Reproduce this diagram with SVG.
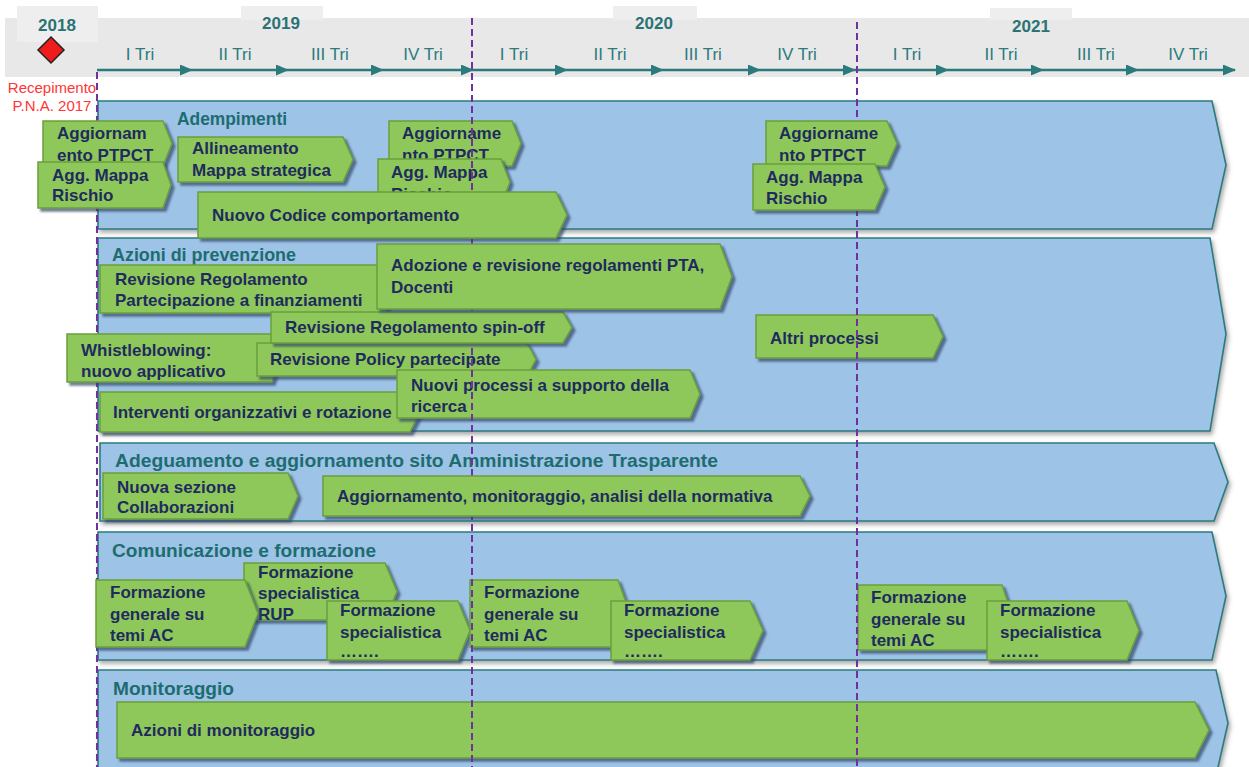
<svg xmlns="http://www.w3.org/2000/svg" width="1249" height="767" viewBox="0 0 1249 767">
<defs>
<style>
.yr{font-family:"Liberation Sans",Arial,sans-serif;font-weight:bold;font-size:17px;fill:#2b7275;text-anchor:middle}
.q{font-family:"Liberation Sans",Arial,sans-serif;font-size:17px;fill:#2b7a7c;text-anchor:middle}
.tl{stroke:#2b7a7c;stroke-width:2.5;fill:none}
.lane{fill:#9dc3e6;stroke:#2a7b80;stroke-width:1.6}
.lt{font-family:"Liberation Sans",Arial,sans-serif;font-weight:bold;font-size:18px;fill:#1d6d70}
.bx{fill:#8fc85a;stroke:#6a9e3c;stroke-width:1.5}
.bt{font-family:"Liberation Sans",Arial,sans-serif;font-weight:bold;font-size:17px;fill:#1f2b5e}
.guide{stroke:#7030a0;stroke-width:2;stroke-dasharray:7 4;fill:none}
.rec{font-family:"Liberation Sans",Arial,sans-serif;font-size:15px;fill:#ff3535;text-anchor:middle}
</style>
<marker id="ah" markerWidth="13" markerHeight="11" refX="12" refY="5.5" orient="auto" markerUnits="userSpaceOnUse">
<path d="M0,0 L13,5.5 L0,11 Z" fill="#2b7a7c"/>
</marker>
<filter id="sh" x="-5%" y="-20%" width="115%" height="150%">
<feDropShadow dx="3" dy="3" stdDeviation="1" flood-color="#34456a" flood-opacity="0.7"/>
</filter>
<filter id="lsh" x="-5%" y="-10%" width="115%" height="130%">
<feDropShadow dx="2" dy="3" stdDeviation="2" flood-color="#555" flood-opacity="0.5"/>
</filter>
</defs>
<rect width="1249" height="767" fill="#ffffff"/>

<g id="header">
<rect x="5" y="18" width="1244" height="59" fill="#e8e8e8"/>
<rect x="17" y="6" width="81" height="36" fill="#eeeeee"/>
<rect x="241" y="6" width="82" height="14" fill="#eeeeee"/>
<rect x="613" y="6" width="84" height="14" fill="#eeeeee"/>
<rect x="990" y="8" width="82" height="12" fill="#eeeeee"/>
<text class="yr" x="57" y="31">2018</text>
<text class="yr" x="281" y="29">2019</text>
<text class="yr" x="654" y="29">2020</text>
<text class="yr" x="1031" y="32">2021</text>
<text class="q" x="140" y="60">I Tri</text>
<text class="q" x="235" y="60">II Tri</text>
<text class="q" x="330" y="60">III Tri</text>
<text class="q" x="423" y="60">IV Tri</text>
<text class="q" x="514" y="60">I Tri</text>
<text class="q" x="610" y="60">II Tri</text>
<text class="q" x="703" y="60">III Tri</text>
<text class="q" x="797" y="60">IV Tri</text>
<text class="q" x="907" y="60">I Tri</text>
<text class="q" x="1001" y="60">II Tri</text>
<text class="q" x="1096" y="60">III Tri</text>
<text class="q" x="1188" y="60">IV Tri</text>
</g>

<g id="milestone">
<polygon points="51,37 64,50 51,63 38,50" fill="#ee1c1c" stroke="#222" stroke-width="1.5"/>
<text class="rec" x="52" y="93">Recepimento</text>
<text class="rec" x="52" y="111">P.N.A. 2017</text>
</g>

<g id="connectors">
<line class="tl" x1="97" y1="70" x2="192" y2="70" marker-end="url(#ah)"/>
<line class="tl" x1="192" y1="70" x2="288" y2="70" marker-end="url(#ah)"/>
<line class="tl" x1="288" y1="70" x2="383" y2="70" marker-end="url(#ah)"/>
<line class="tl" x1="383" y1="70" x2="473" y2="70" marker-end="url(#ah)"/>
<line class="tl" x1="473" y1="70" x2="567" y2="70" marker-end="url(#ah)"/>
<line class="tl" x1="567" y1="70" x2="663" y2="70" marker-end="url(#ah)"/>
<line class="tl" x1="663" y1="70" x2="760" y2="70" marker-end="url(#ah)"/>
<line class="tl" x1="760" y1="70" x2="855" y2="70" marker-end="url(#ah)"/>
<line class="tl" x1="855" y1="70" x2="948" y2="70" marker-end="url(#ah)"/>
<line class="tl" x1="948" y1="70" x2="1043" y2="70" marker-end="url(#ah)"/>
<line class="tl" x1="1043" y1="70" x2="1138" y2="70" marker-end="url(#ah)"/>
<line class="tl" x1="1138" y1="70" x2="1235" y2="70" marker-end="url(#ah)"/>
</g>

<g id="lane-adempimenti">
<polygon class="lane" filter="url(#lsh)" points="98,101 1212,101 1226,165 1212,229 98,229"/>
<text class="lt" x="177" y="125" textLength="110" lengthAdjust="spacingAndGlyphs">Adempimenti</text>
</g>
<g id="lane-prevenzione">
<polygon class="lane" filter="url(#lsh)" points="98,238 1210,238 1226,334 1210,431 98,431"/>
<text class="lt" x="112" y="261" textLength="184" lengthAdjust="spacingAndGlyphs">Azioni  di prevenzione</text>
</g>
<g id="lane-trasparenza">
<polygon class="lane" filter="url(#lsh)" points="100,443 1214,443 1228,482 1214,521 100,521"/>
<text class="lt" x="115" y="467" textLength="603" lengthAdjust="spacingAndGlyphs">Adeguamento e aggiornamento sito  Amministrazione Trasparente</text>
</g>
<g id="lane-comunicazione">
<polygon class="lane" filter="url(#lsh)" points="98,532 1212,532 1226,596 1212,660 98,660"/>
<text class="lt" x="112" y="557" textLength="264" lengthAdjust="spacingAndGlyphs">Comunicazione e formazione</text>
</g>
<g id="lane-monitoraggio">
<polygon class="lane" filter="url(#lsh)" points="98,670 1216,670 1228,723 1216,776 98,776"/>
<text class="lt" x="113" y="695" textLength="121" lengthAdjust="spacingAndGlyphs">Monitoraggio</text>
</g>

<g id="guide-2018">
<line class="guide" x1="97" y1="72" x2="97" y2="767"/>
</g>

<g id="a4"><polygon class="bx" filter="url(#sh)" points="389,121 512,121 521,143.5 512,166 389,166"/><text class="bt" x="402" y="139">Aggiorname</text><text class="bt" x="402" y="161">nto PTPCT</text></g>
<g id="a5"><polygon class="bx" filter="url(#sh)" points="378,159 501,159 510,182 501,205 378,205"/><text class="bt" x="391" y="178">Agg. Mappa</text><text class="bt" x="391" y="200">Rischio</text></g>
<g id="a1"><polygon class="bx" filter="url(#sh)" points="43,121 163,121 172,143.5 163,166 43,166"/><text class="bt" x="57" y="139">Aggiornam</text><text class="bt" x="57" y="161">ento PTPCT</text></g>
<g id="a2"><polygon class="bx" filter="url(#sh)" points="38,162 163,162 171,185 163,208 38,208"/><text class="bt" x="52" y="181">Agg. Mappa</text><text class="bt" x="52" y="201">Rischio</text></g>
<g id="b1"><polygon class="bx" filter="url(#sh)" points="100,265 385,265 395,289 385,313 100,313"/><text class="bt" x="115" y="285">Revisione Regolamento</text><text class="bt" x="115" y="306">Partecipazione a finanziamenti</text></g>
<g id="b7"><polygon class="bx" filter="url(#sh)" points="100,392 410,392 420,412 410,432 100,432"/><text class="bt" x="113" y="418">Interventi organizzativi e rotazione</text></g>
<g id="b4"><polygon class="bx" filter="url(#sh)" points="67,334 272,334 280,358 272,382 67,382"/><text class="bt" x="81" y="356">Whistleblowing:</text><text class="bt" x="81" y="377">nuovo applicativo</text></g>
<g id="b5"><polygon class="bx" filter="url(#sh)" points="257,343 527,343 536,359.5 527,376 257,376"/><text class="bt" x="270" y="365">Revisione Policy partecipate</text></g>
<g id="b6"><polygon class="bx" filter="url(#sh)" points="397,370 690,370 700,394 690,418 397,418"/><text class="bt" x="411" y="391">Nuovi processi a supporto della</text><text class="bt" x="411" y="412">ricerca</text></g>
<g id="b8"><polygon class="bx" filter="url(#sh)" points="756,315 933,315 943,336.5 933,358 756,358"/><text class="bt" x="770" y="344">Altri processi</text></g>
<g id="d2"><polygon class="bx" filter="url(#sh)" points="244,563 385,563 397,591.5 385,620 244,620"/><text class="bt" x="258" y="578">Formazione</text><text class="bt" x="258" y="599">specialistica</text><text class="bt" x="258" y="620">RUP</text></g>
<g id="d1"><polygon class="bx" filter="url(#sh)" points="96,580 245,580 258,613.5 245,647 96,647"/><text class="bt" x="110" y="598">Formazione</text><text class="bt" x="110" y="620">generale su</text><text class="bt" x="110" y="641">temi AC</text></g>
<g id="d3"><polygon class="bx" filter="url(#sh)" points="327,601 458,601 470,630.5 458,660 327,660"/><text class="bt" x="340" y="616">Formazione</text><text class="bt" x="340" y="638">specialistica</text><text class="bt" x="340" y="657">…….</text></g>
<g id="d4"><polygon class="bx" filter="url(#sh)" points="470,580 618,580 630,613.5 618,647 470,647"/><text class="bt" x="484" y="598">Formazione</text><text class="bt" x="484" y="620">generale su</text><text class="bt" x="484" y="641">temi AC</text></g>
<g id="d5"><polygon class="bx" filter="url(#sh)" points="611,601 750,601 763,630.5 750,660 611,660"/><text class="bt" x="624" y="616">Formazione</text><text class="bt" x="624" y="638">specialistica</text><text class="bt" x="624" y="657">…….</text></g>
<g id="d6"><polygon class="bx" filter="url(#sh)" points="858,585 1002,585 1013,617.5 1002,650 858,650"/><text class="bt" x="871" y="603">Formazione</text><text class="bt" x="871" y="625">generale su</text><text class="bt" x="871" y="646">temi AC</text></g>
<g id="d7"><polygon class="bx" filter="url(#sh)" points="987,601 1127,601 1139,630.5 1127,660 987,660"/><text class="bt" x="1000" y="616">Formazione</text><text class="bt" x="1000" y="638">specialistica</text><text class="bt" x="1000" y="657">…….</text></g>
<g id="e1"><polygon class="bx" filter="url(#sh)" points="117,702 1195,702 1209,730 1195,758 117,758"/><text class="bt" x="131" y="736">Azioni di monitoraggio</text></g>

<g id="guides-2019-2020">
<line class="guide" x1="472" y1="18" x2="472" y2="767"/>
<line class="guide" x1="857" y1="22" x2="857" y2="767"/>
</g>

<g id="a3"><polygon class="bx" filter="url(#sh)" points="178,137 343,137 353,159.5 343,182 178,182"/><text class="bt" x="192" y="154">Allineamento</text><text class="bt" x="192" y="176">Mappa strategica</text></g>
<g id="a6"><polygon class="bx" filter="url(#sh)" points="198,192 556,192 567,215 556,238 198,238"/><text class="bt" x="212" y="221">Nuovo Codice comportamento</text></g>
<g id="a7"><polygon class="bx" filter="url(#sh)" points="766,121 887,121 897,143.5 887,166 766,166"/><text class="bt" x="779" y="139">Aggiorname</text><text class="bt" x="779" y="161">nto PTPCT</text></g>
<g id="a8"><polygon class="bx" filter="url(#sh)" points="753,164 875,164 885,187 875,210 753,210"/><text class="bt" x="766" y="183">Agg. Mappa</text><text class="bt" x="766" y="204">Rischio</text></g>
<g id="b3"><polygon class="bx" filter="url(#sh)" points="271,312 563,312 572,327.5 563,343 271,343"/><text class="bt" x="285" y="333">Revisione Regolamento spin-off</text></g>
<g id="b2"><polygon class="bx" filter="url(#sh)" points="377,244 720,244 732,276.5 720,309 377,309"/><text class="bt" x="391" y="271">Adozione e revisione regolamenti PTA,</text><text class="bt" x="391" y="293">Docenti</text></g>
<g id="c1"><polygon class="bx" filter="url(#sh)" points="103,473 288,473 298,496 288,519 103,519"/><text class="bt" x="117" y="493">Nuova sezione</text><text class="bt" x="117" y="513">Collaborazioni</text></g>
<g id="c2"><polygon class="bx" filter="url(#sh)" points="323,476 800,476 810,496 800,516 323,516"/><text class="bt" x="337" y="502">Aggiornamento, monitoraggio, analisi della normativa</text></g>
</svg>
